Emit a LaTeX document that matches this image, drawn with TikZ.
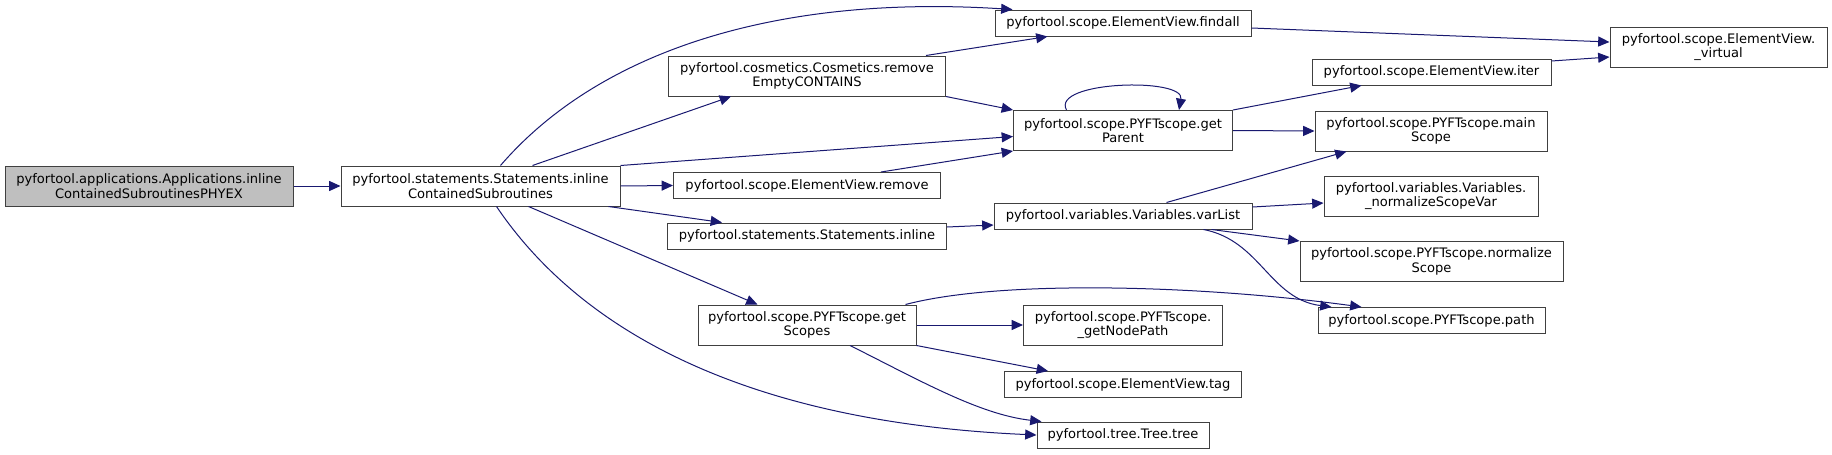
\documentclass[tikz,border=0pt]{standalone}
\usepackage{fontspec}
\setmainfont{DejaVu Sans}
\usepackage{tikz}
\usetikzlibrary{positioning,arrows.meta,calc}
\definecolor{callblue}{HTML}{191970}
\definecolor{fnline}{HTML}{404040}
\definecolor{fnsel}{HTML}{BFBFBF}

\begin{document}
\begin{tikzpicture}[
  x=0.75pt, y=-0.75pt,
  fn/.style={draw=fnline, line width=0.75pt, fill=white, inner sep=0pt, align=center,
             font=\fontsize{9.8}{11}\selectfont, minimum width=#1*0.75pt,
             minimum height=19.5pt},
  fnn/.style={fn=#1, minimum height=30pt},
  fnroot/.style={fnn=#1, fill=fnsel},
  call/.style={-{Triangle[length=8.5pt,width=7.5pt]}, line width=0.75pt, callblue},
]
\useasboundingbox (0,0) rectangle (1832,454);

% ---- caller and the function it calls ----
\node[fnroot=288] (app) at (149,186)
  {pyfortool.applications.Applications.inline\\ContainedSubroutinesPHYEX};
\node[fnn=279] (inl) at (480.5,186)
  {pyfortool.statements.Statements.inline\\ContainedSubroutines};

% ---- second column ----
\node[fnn=277] (cosm)   at (807,76)    {pyfortool.cosmetics.Cosmetics.remove\\EmptyCONTAINS};
\node[fn=267]  (remove) at (807,185.5) {pyfortool.scope.ElementView.remove};
\node[fn=279]  (stinl)  at (807,236)   {pyfortool.statements.Statements.inline};
\node[fnn=218] (getsc)  at (807,325)   {pyfortool.scope.PYFTscope.get\\Scopes};

% ---- third column ----
\node[fn=256]  (findall)  at (1123,23)    {pyfortool.scope.ElementView.findall};
\node[fnn=219] (getpar)   at (1123,130.5) {pyfortool.scope.PYFTscope.get\\Parent};
\node[fn=258]  (varlist)  at (1123,216)   {pyfortool.variables.Variables.varList};
\node[fnn=199] (nodepath) at (1123,325)   {pyfortool.scope.PYFTscope.\\\_getNodePath};
\node[fn=237]  (tag)      at (1123,384.5) {pyfortool.scope.ElementView.tag};
\node[fn=172]  (tree)     at (1123,435)   {pyfortool.tree.Tree.tree};

% ---- fourth and fifth columns ----
\node[fn=239]  (iter)    at (1431.5,72)    {pyfortool.scope.ElementView.iter};
\node[fnn=232] (mainsc)  at (1431,131)     {pyfortool.scope.PYFTscope.main\\Scope};
\node[fnn=214] (normvar) at (1431,196)     {pyfortool.variables.Variables.\\\_normalizeScopeVar};
\node[fnn=263] (normsc)  at (1431.5,261.5) {pyfortool.scope.PYFTscope.normalize\\Scope};
\node[fn=227]  (path)    at (1431.5,320.5) {pyfortool.scope.PYFTscope.path};
\node[fnn=217] (virtual) at (1718.5,47)    {pyfortool.scope.ElementView.\\\_virtual};

% ---- straight calls ----
\foreach \a/\b in {app.east/inl.west, inl.east/remove.west, getpar.east/mainsc.west,
                   getsc.east/nodepath.west, cosm.south east/getpar.north west}
  \draw[call] (\a) -- (\b);

% ---- calls out of inlineContainedSubroutines ----
\draw[call] ($(inl.north)+(20,0)$) .. controls +(100,-116) and +(-233,-15) ..
  ($(findall.north west)+(18,0)$);
\draw[call] ($(inl.north)+(52,0)$) -- ($(cosm.south west)+(63,0)$);
\draw[call] (inl.north east) -- ($(getpar.west)+(0,6)$);
\draw[call] ($(inl.south east)+(-12,0)$) -- ($(stinl.north west)+(55,0)$);
\draw[call] ($(inl.south)+(48,0)$) -- ($(getsc.north west)+(60,0)$);
\draw[call] ($(inl.south)+(16,0)$) .. controls +(63.5,94) and +(-337,-15) .. (tree.west);

% ---- second column calls ----
\draw[call] ($(cosm.north east)+(-20,0)$) -- ($(findall.south west)+(53,0)$);
\draw[call] ($(remove.north east)+(-60,0)$) -- (getpar.south west);
\draw[call] ($(stinl.east)+(0,-9)$) -- ($(varlist.west)+(0,9)$);
\draw[call] ($(getsc.north east)+(-11,0)$) .. controls +(95,-25) and +(-162,-22) ..
  ($(path.north west)+(44,0)$);
\draw[call] (getsc.south east) -- ($(tag.north west)+(44,0)$);
\draw[call] ($(getsc.south)+(43,0)$) .. controls +(70,35) and +(-62,-7) ..
  ($(tree.north west)+(5,0)$);

% ---- getParent, recursive ----
\draw[call] ($(getpar.north)+(-56.5,0)$) .. controls +(-16,-29) and +(6,-33) ..
  ($(getpar.north)+(56,0)$);
\draw[call] (getpar.north east) -- ($(iter.south west)+(50,0)$);

% ---- third column calls ----
\draw[call] ($(findall.east)+(0,5)$) -- ($(virtual.west)+(0,-5)$);
\draw[call] ($(iter.east)+(0,-11)$) -- ($(virtual.west)+(0,10)$);
\draw[call] ($(varlist.north)+(43.5,0)$) -- ($(mainsc.south west)+(32,0)$);
\draw[call] ($(varlist.east)+(0,-9)$) -- ($(normvar.west)+(0,7)$);
\draw[call] ($(varlist.south east)+(-41,0)$) -- (normsc.north west);
\draw[call] ($(varlist.south east)+(-49,0)$) .. controls +(57,11) and +(-62,-8) ..
  ($(path.north west)+(14,0)$);

\end{tikzpicture}
\end{document}
